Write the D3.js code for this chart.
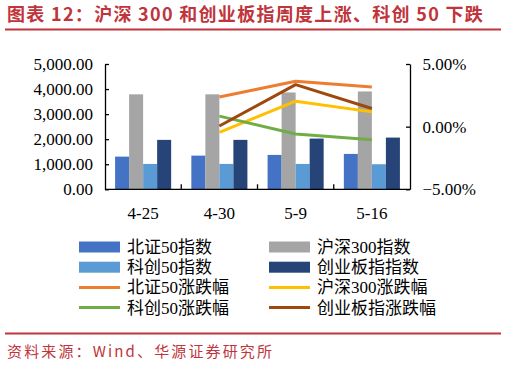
<!DOCTYPE html>
<html>
<head>
<meta charset="utf-8">
<script src="https://cdn.jsdelivr.net/npm/d3@7"></script>
<style>
  body { margin: 0; background: #fff; }
  svg { display: block; }
</style>
</head>
<body>
<svg id="chart"></svg>
<script>
// data
var dates = ["4-25", "4-30", "5-9", "5-16"];
var barSeries = ["北证50指数", "沪深300指数", "科创50指数", "创业板指指数"];
var bz50 = [1304, 1344, 1372, 1412];
var hs300 = [3790, 3790, 3864, 3904];
var kc50 = [1012, 1012, 1012, 1000];
var cyb = [1972, 1972, 2024, 2064];
var lineDates = ["4-30", "5-9", "5-16"];
var bz50Chg = [2.37, 3.63, 3.16];
var hs300Chg = [-0.45, 2.03, 1.18];
var kc50Chg = [0.84, -0.58, -1.05];
var cybChg = [0.05, 3.35, 1.45];
var leftTicks = [0, 1000, 2000, 3000, 4000, 5000];
var rightTicks = [-5, 0, 5];

function drawChart() {
  var barColors = ["#4472c4", "#a5a5a5", "#5b9bd5", "#264478"];
  var lineColors = ["#ed7d31", "#ffc000", "#70ad47", "#9e480e"];
  var red = "#c0343b";
  var numFont = "'Liberation Serif', 'Times New Roman', serif";
  var cjkFont = "'Liberation Serif', 'Noto Sans CJK SC', serif";

  var svgWidth = 506, svgHeight = 366;
  var svg = d3.select("#chart")
    .attr("width", svgWidth)
    .attr("height", svgHeight);

  // title
  svg.append("text")
    .attr("x", 7)
    .attr("y", 21)
    .attr("fill", red)
    .attr("font-family", "'Noto Sans CJK SC', sans-serif")
    .attr("font-weight", "bold")
    .attr("font-size", 18)
    .attr("letter-spacing", 1.3)
    .text("图表 12：沪深 300 和创业板指周度上涨、科创 50 下跌");

  svg.append("line")
    .attr("x1", 5).attr("x2", 501)
    .attr("y1", 29.5).attr("y2", 29.5)
    .attr("stroke", red)
    .attr("stroke-width", 2);

  var plotLeft = 105, plotRight = 410, plotTop = 64, plotBottom = 189.3;

  var x = d3.scaleBand()
    .domain(dates)
    .range([plotLeft, plotRight]);

  var xs = d3.scaleBand()
    .domain(barSeries)
    .range([0, x.bandwidth()])
    .paddingOuter(0.72);

  var y = d3.scaleLinear()
    .domain([0, 5000])
    .range([plotBottom, plotTop]);

  var y2 = d3.scaleLinear()
    .domain([-5, 5])
    .range([plotBottom, plotTop]);

  // bars
  var barData = [bz50, hs300, kc50, cyb];
  barData.forEach(function (vals, i) {
    svg.append("g")
      .selectAll("rect")
      .data(vals)
      .enter().append("rect")
      .attr("x", function (d, j) { return x(dates[j]) + xs(barSeries[i]); })
      .attr("width", xs.bandwidth())
      .attr("y", function (d) { return y(d); })
      .attr("height", function (d) { return y(0) - y(d); })
      .attr("fill", barColors[i]);
  });

  // lines
  var line = d3.line()
    .x(function (d, j) { return x(lineDates[j]) + x.bandwidth() / 2; })
    .y(function (d) { return y2(d); });

  [bz50Chg, hs300Chg, kc50Chg, cybChg].forEach(function (vals, i) {
    svg.append("path")
      .datum(vals)
      .attr("fill", "none")
      .attr("stroke", lineColors[i])
      .attr("stroke-width", 3)
      .attr("stroke-linejoin", "round")
      .attr("d", line);
  });

  // left axis
  var gl = svg.append("g")
    .attr("transform", "translate(" + plotLeft + ",0)")
    .call(d3.axisLeft(y).tickValues(leftTicks).tickFormat(d3.format(",.2f")).tickSize(-4).tickPadding(12).tickSizeOuter(0));

  // right axis
  var gr = svg.append("g")
    .attr("transform", "translate(" + plotRight + ",0)")
    .call(d3.axisRight(y2).tickValues(rightTicks).tickFormat(function (d) { return d3.format(".2f")(d) + "%"; }).tickSize(-4).tickPadding(12.5).tickSizeOuter(0));

  [gl, gr].forEach(function (g) {
    g.selectAll("text")
      .attr("font-family", numFont)
      .attr("font-size", 17)
      .attr("fill", "#000");
    g.selectAll("line, path").attr("stroke", "#000").attr("stroke-width", 1.3);
  });

  // bottom axis
  var gb = svg.append("g");
  gb.append("line")
    .attr("x1", plotLeft).attr("x2", plotRight)
    .attr("y1", plotBottom).attr("y2", plotBottom)
    .attr("stroke", "#000")
    .attr("stroke-width", 1.3);
  gb.selectAll(".tk")
    .data(dates.slice(1))
    .enter().append("line")
    .attr("x1", function (d) { return x(d); })
    .attr("x2", function (d) { return x(d); })
    .attr("y1", plotBottom).attr("y2", plotBottom - 5)
    .attr("stroke", "#000")
    .attr("stroke-width", 1.3);
  gb.selectAll("text")
    .data(dates)
    .enter().append("text")
    .attr("x", function (d) { return x(d) + x.bandwidth() / 2; })
    .attr("y", 219)
    .attr("text-anchor", "middle")
    .attr("font-family", numFont)
    .attr("font-size", 17)
    .text(function (d) { return d; });

  // legend
  var legendItems = [
    { name: "北证50指数", type: "bar", color: barColors[0] },
    { name: "沪深300指数", type: "bar", color: barColors[1] },
    { name: "科创50指数", type: "bar", color: barColors[2] },
    { name: "创业板指指数", type: "bar", color: barColors[3] },
    { name: "北证50涨跌幅", type: "line", color: lineColors[0] },
    { name: "沪深300涨跌幅", type: "line", color: lineColors[1] },
    { name: "科创50涨跌幅", type: "line", color: lineColors[2] },
    { name: "创业板指涨跌幅", type: "line", color: lineColors[3] }
  ];

  var lg = svg.append("g")
    .selectAll("g")
    .data(legendItems)
    .enter().append("g")
    .attr("transform", function (d, i) {
      return "translate(" + (i % 2 ? 269 : 79) + "," + (247 + Math.floor(i / 2) * 20.2) + ")";
    });

  lg.filter(function (d) { return d.type === "bar"; })
    .append("rect")
    .attr("x", 0).attr("y", -5.5)
    .attr("width", 41).attr("height", 11)
    .attr("fill", function (d) { return d.color; });

  lg.filter(function (d) { return d.type === "line"; })
    .append("line")
    .attr("x1", 0).attr("x2", 41)
    .attr("y1", 0).attr("y2", 0)
    .attr("stroke", function (d) { return d.color; })
    .attr("stroke-width", 3);

  lg.append("text")
    .attr("x", 48)
    .attr("y", 6)
    .attr("font-family", cjkFont)
    .attr("font-size", 17)
    .text(function (d) { return d.name; });

  // source
  svg.append("line")
    .attr("x1", 5).attr("x2", 501)
    .attr("y1", 333.5).attr("y2", 333.5)
    .attr("stroke", red)
    .attr("stroke-width", 2);

  svg.append("text")
    .attr("x", 7)
    .attr("y", 357)
    .attr("fill", red)
    .attr("font-family", "'Noto Sans CJK SC', sans-serif")
    .attr("font-size", 15)
    .attr("textLength", 265)
    .attr("lengthAdjust", "spacing")
    .text("资料来源：Wind、华源证券研究所");
}

drawChart();
</script>
</body>
</html>
